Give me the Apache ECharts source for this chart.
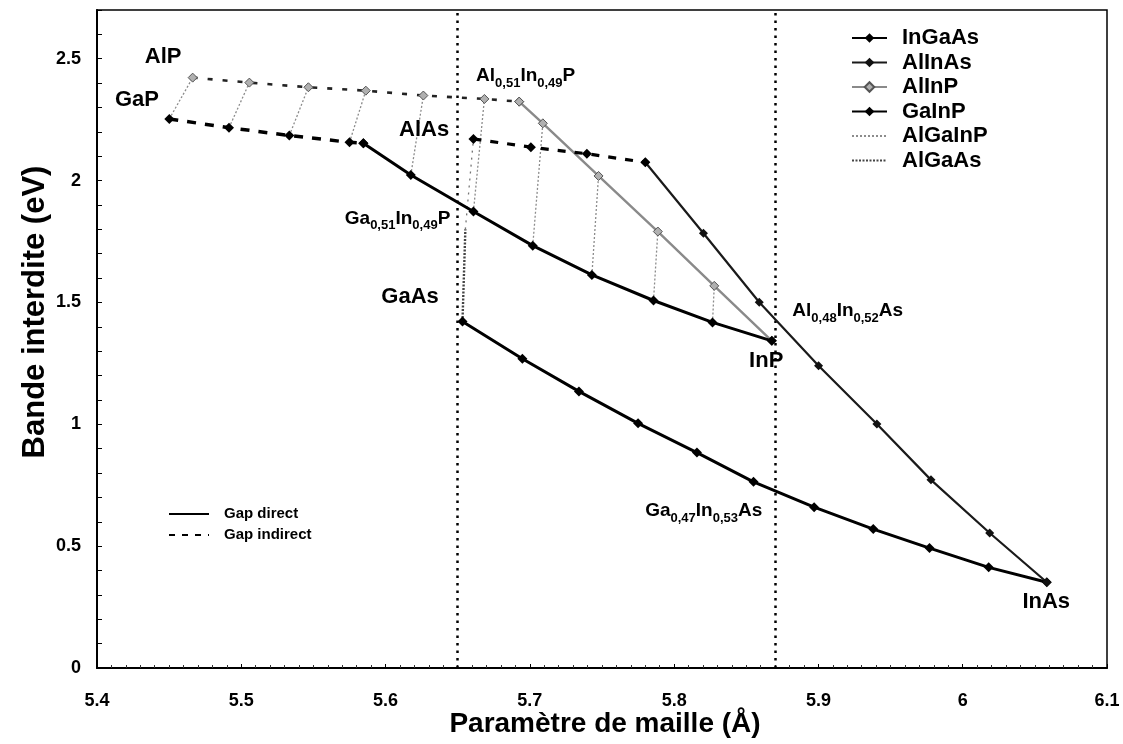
<!DOCTYPE html>
<html>
<head>
<meta charset="utf-8">
<script src="https://cdn.jsdelivr.net/npm/echarts@6/dist/echarts.min.js"></script>
<style>
html,body{margin:0;padding:0;background:#fff;}
#c{width:1123px;height:744px;}
</style>
</head>
<body>
<div id="c"></div>
<script>
// ---- Data ----
const inGaAsX = [5.6533, 5.6948, 5.734, 5.775, 5.8158, 5.855, 5.897, 5.938, 5.977, 6.018, 6.0583];
const inGaAsY = [1.422, 1.269, 1.135, 1.004, 0.884, 0.764, 0.660, 0.570, 0.492, 0.413, 0.352];

const alInAsX = [5.6609, 5.7007, 5.7395, 5.780, 5.8203, 5.859, 5.9001, 5.9405, 5.978, 6.0187, 6.0583];
const alInAsY = [2.171, 2.137, 2.110, 2.075, 1.784, 1.501, 1.240, 1.001, 0.772, 0.554, 0.352];
const alInAsCross = 3;   // index where the gap becomes direct

const alInPX = [5.4663, 5.5056, 5.5465, 5.5863, 5.6262, 5.6685, 5.6926, 5.709, 5.7476, 5.7887, 5.8278, 5.8677];
const alInPY = [2.4225, 2.402, 2.383, 2.369, 2.349, 2.335, 2.324, 2.235, 2.019, 1.791, 1.568, 1.3425];
const alInPCross = 6;

const gaInPX = [5.4501, 5.4915, 5.5333, 5.575, 5.5846, 5.6175, 5.6609, 5.702, 5.743, 5.7857, 5.8266, 5.8677];
const gaInPY = [2.253, 2.217, 2.185, 2.157, 2.153, 2.023, 1.873, 1.733, 1.613, 1.508, 1.418, 1.3425];
const gaInPCross = 4;

// AlGaInP tie lines: GaInP point index -> AlInP point index
const tieGaIdx = [0, 1, 2, 3, 5, 6, 7, 8, 9, 10];
const tieAlIdx = [0, 1, 2, 3, 4, 5, 7, 8, 9, 10];

const alGaAsX = [5.6533, 5.6553, 5.6609];
const alGaAsY = [1.422, 1.80, 2.171];
const alGaAsCross = 1;

const latticeMatched = [5.6533, 5.8687]; // GaAs, InP

const xTicks = {min: 5.4, max: 6.1, step: 0.1};
const yTicks = {min: 0, max: 2.7, step: 0.5};

const legendNames = ['InGaAs', 'AlInAs', 'AlInP', 'GaInP', 'AlGaInP', 'AlGaAs'];
const gapNames = ['Gap direct', 'Gap indirect'];

// annotations: [x, y, text]
const bigLabels = [
  [5.4458, 2.507, 'AlP'],
  [5.4277, 2.331, 'GaP'],
  [5.6267, 2.208, 'AlAs'],
  [5.6170, 1.524, 'GaAs'],
  [5.8638, 1.260, 'InP'],
  [6.0579, 0.272, 'InAs']
];
const compoundLabels = [
  [5.6083, 1.836, '{m|Ga}{s|0,51}{m|In}{s|0,49}{m|P}'],
  [5.6971, 2.420, '{m|Al}{s|0,51}{m|In}{s|0,49}{m|P}'],
  [5.9203, 1.456, '{m|Al}{s|0,48}{m|In}{s|0,52}{m|As}'],
  [5.8205, 0.636, '{m|Ga}{s|0,47}{m|In}{s|0,53}{m|As}']
];

// ---- helpers ----
function pts(xs, ys, a, b) {
  const out = [];
  for (let i = a; i <= b; i++) out.push([xs[i], ys[i]]);
  return out;
}
const FONT = "'Liberation Sans', Arial, Helvetica, sans-serif";

const series = [];
series.push({
  name: 'InGaAs', type: 'line', z: 5,
  data: pts(inGaAsX, inGaAsY, 0, inGaAsX.length - 1),
  lineStyle: {color: '#000', width: 3},
  symbol: 'diamond', symbolSize: 10, itemStyle: {color: '#000'}
});
series.push({
  name: 'AlInAs', type: 'line', z: 5,
  data: pts(alInAsX, alInAsY, alInAsCross, alInAsX.length - 1),
  lineStyle: {color: '#1a1a1a', width: 2.2},
  symbol: 'diamond', symbolSize: 9, itemStyle: {color: '#111'}
});
series.push({
  name: 'AlInAs', type: 'line', z: 5,
  data: pts(alInAsX, alInAsY, 0, alInAsCross),
  lineStyle: {color: '#000', width: 3.2, type: [8, 9]},
  symbol: 'diamond', symbolSize: 10, itemStyle: {color: '#000'}
});
series.push({
  name: 'AlInP', type: 'line', z: 4,
  data: pts(alInPX, alInPY, alInPCross, alInPX.length - 1),
  lineStyle: {color: '#8a8a8a', width: 2.4},
  symbol: 'diamond', symbolSize: 9,
  itemStyle: {color: '#b0b0b0', borderColor: '#555', borderWidth: 1}
});
series.push({
  name: 'AlInP', type: 'line', z: 4,
  data: pts(alInPX, alInPY, 0, alInPCross),
  lineStyle: {color: '#222', width: 2.6, type: [5, 10]},
  symbol: 'diamond', symbolSize: 9,
  itemStyle: {color: '#b0b0b0', borderColor: '#555', borderWidth: 1}
});
series.push({
  name: 'GaInP', type: 'line', z: 5,
  data: pts(gaInPX, gaInPY, gaInPCross, gaInPX.length - 1),
  lineStyle: {color: '#000', width: 3},
  symbol: 'diamond', symbolSize: 10, itemStyle: {color: '#000'}
});
series.push({
  name: 'GaInP', type: 'line', z: 5,
  data: pts(gaInPX, gaInPY, 0, gaInPCross),
  lineStyle: {color: '#000', width: 3.5, type: [9, 9]},
  symbol: 'diamond', symbolSize: 10, itemStyle: {color: '#000'}
});
for (let k = 0; k < tieGaIdx.length; k++) {
  const g = tieGaIdx[k], a = tieAlIdx[k];
  series.push({
    name: 'AlGaInP', type: 'line', z: 2, silent: true,
    data: [[gaInPX[g], gaInPY[g]], [alInPX[a], alInPY[a]]],
    lineStyle: {color: '#8c8c8c', width: 1.3, type: [2, 2]},
    itemStyle: {color: '#8c8c8c'},
    symbol: 'none'
  });
}
series.push({
  name: 'AlGaAs', type: 'line', z: 3, silent: true,
  data: pts(alGaAsX, alGaAsY, 0, alGaAsCross),
  lineStyle: {color: '#444', width: 2.4, type: [2, 1.5]},
  itemStyle: {color: '#444'},
  symbol: 'none'
});
series.push({
  name: 'AlGaAs', type: 'line', z: 3, silent: true,
  data: pts(alGaAsX, alGaAsY, alGaAsCross, alGaAsX.length - 1),
  lineStyle: {color: '#777', width: 1.3, type: [2, 5]},
  itemStyle: {color: '#777'},
  symbol: 'none'
});
series.push({
  name: gapNames[0], type: 'line', data: [], symbol: 'none',
  lineStyle: {color: '#000', width: 3}, itemStyle: {color: '#000'}
});
series.push({
  name: gapNames[1], type: 'line', data: [], symbol: 'none',
  lineStyle: {color: '#000', width: 3.5, type: [6, 7]}, itemStyle: {color: '#000'}
});
series.push({
  name: 'ref', type: 'line', data: [], symbol: 'none', silent: true,
  markLine: {
    silent: true, symbol: ['none', 'none'], label: {show: false},
    lineStyle: {color: '#000', width: 2.5, type: [2.5, 5]},
    data: latticeMatched.map(v => ({xAxis: v}))
  }
});
series.push({
  name: 'labelsBig', type: 'scatter', z: 10, silent: true,
  symbolSize: 0, itemStyle: {opacity: 1, color: '#000'},
  data: bigLabels.map(d => ({value: [d[0], d[1]], name: d[2]})),
  label: {
    show: true, position: 'inside', formatter: p => p.name, opacity: 1,
    color: '#000', fontFamily: FONT, fontWeight: 'bold', fontSize: 22
  }
});
series.push({
  name: 'labelsCompound', type: 'scatter', z: 10, silent: true,
  symbolSize: 0, itemStyle: {opacity: 1, color: '#000'},
  data: compoundLabels.map(d => ({value: [d[0], d[1]], name: d[2]})),
  label: {
    show: true, position: 'inside', formatter: p => p.name, opacity: 1,
    color: '#000', fontFamily: FONT, fontWeight: 'bold',
    rich: {
      m: {fontSize: 19, fontWeight: 'bold', fontFamily: FONT, color: '#000', verticalAlign: 'bottom', padding: [0, 0, 4, 0]},
      s: {fontSize: 13, fontWeight: 'bold', fontFamily: FONT, color: '#000', verticalAlign: 'bottom', padding: [0, 0, 0, 0]}
    }
  }
});

const hideSym = {opacity: 0};
const chart = echarts.init(document.getElementById('c'), null, {renderer: 'canvas'});
chart.setOption({
  animation: false,
  backgroundColor: '#fff',
  textStyle: {fontFamily: FONT},
  grid: {left: 97, right: 16, top: 10, bottom: 76, show: true, borderColor: '#000', borderWidth: 1.5, backgroundColor: 'transparent'},
  xAxis: {
    type: 'value', min: xTicks.min, max: xTicks.max, interval: xTicks.step,
    axisLine: {show: true, onZero: false, lineStyle: {color: '#000', width: 2}},
    axisTick: {show: true, inside: true, length: 4, lineStyle: {color: '#000'}},
    minorTick: {show: true, splitNumber: 10, length: 3, lineStyle: {color: '#333'}},
    splitLine: {show: false},
    axisLabel: {color: '#000', fontSize: 18, fontWeight: 'bold', fontFamily: FONT, margin: 24}
  },
  yAxis: {
    type: 'value', min: yTicks.min, max: yTicks.max, interval: yTicks.step,
    axisLine: {show: true, onZero: false, lineStyle: {color: '#000', width: 2}},
    axisTick: {show: true, inside: true, length: 5, lineStyle: {color: '#000'}},
    minorTick: {show: true, splitNumber: 5, length: 5, lineStyle: {color: '#000'}},
    splitLine: {show: false},
    axisLabel: {color: '#000', fontSize: 18, fontWeight: 'bold', fontFamily: FONT, margin: 16, showMaxLabel: false}
  },
  legend: [{
    data: legendNames.map(n => (n === 'AlGaInP' || n === 'AlGaAs') ? {name: n, itemStyle: hideSym} : {name: n}),
    orient: 'vertical', left: 851, top: 27,
    itemWidth: 35, itemHeight: 12, itemGap: 2.5, padding: 0,
    textStyle: {fontSize: 22, fontWeight: 'bold', color: '#000', fontFamily: FONT, padding: [0, 0, 0, 10], lineHeight: 22},
    selectedMode: false
  }, {
    data: gapNames.map(n => ({name: n, itemStyle: hideSym})),
    orient: 'vertical', left: 168, top: 506,
    itemWidth: 40, itemHeight: 10, itemGap: 5, padding: 0,
    textStyle: {fontSize: 15, fontWeight: 'bold', color: '#000', fontFamily: FONT, padding: [0, 0, 0, 10], lineHeight: 16},
    selectedMode: false
  }],
  graphic: [{
    type: 'text',
    rotation: Math.PI / 2,
    x: 35, y: 312,
    style: {text: 'Bande interdite (eV)', fontSize: 31, fontWeight: 'bold', fontFamily: FONT, fill: '#000', align: 'center', verticalAlign: 'middle'}
  }, {
    type: 'text',
    x: 605, y: 724,
    style: {text: 'Paramètre de maille (Å)', fontSize: 28, fontWeight: 'bold', fontFamily: FONT, fill: '#000', align: 'center', verticalAlign: 'middle'}
  }],
  series: series
});
</script>
</body>
</html>
